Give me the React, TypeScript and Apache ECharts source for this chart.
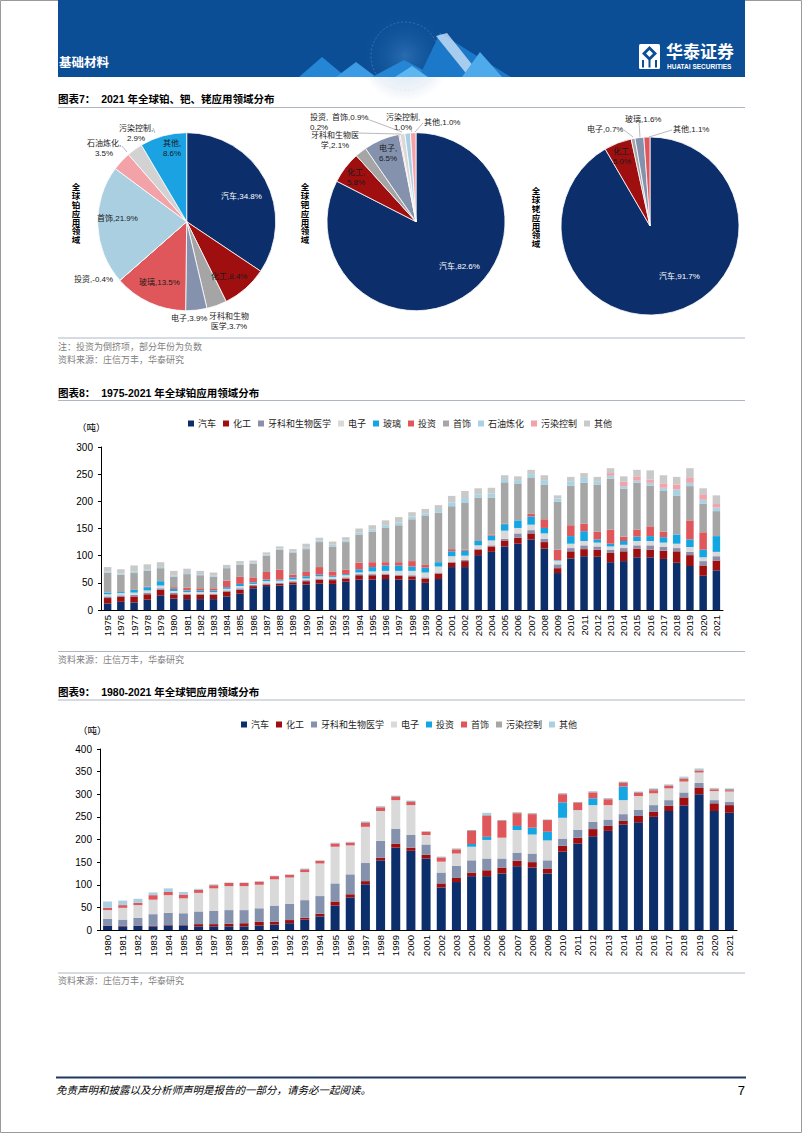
import React, { useEffect, useRef } from 'react';
import * as echarts from 'echarts';

const FONT = '"Liberation Sans", "Noto Sans CJK SC", sans-serif';

// ---------- Pie data (2021) ----------
const ptPieNames = ['汽车', '化工', '牙科和生物医学', '电子', '玻璃', '投资', '首饰', '石油炼化', '污染控制', '其他'];
const ptPieValues = [34.8, 8.4, 3.7, 3.9, 13.5, -0.4, 21.9, 3.5, 2.9, 8.6];
const pdPieNames = ['汽车', '化工', '牙科和生物医学', '电子', '投资', '首饰', '污染控制', '其他'];
const pdPieValues = [82.6, 5.8, 2.1, 6.5, 0.2, 0.9, 1.0, 1.0];
const rhPieNames = ['汽车', '化工', '电子', '玻璃', '其他'];
const rhPieValues = [91.7, 5.0, 0.7, 1.6, 1.1];
const piePalette = ['#0c2e6b', '#a00f10', '#a5a5a5', '#8592ae', '#e0575b', '#d9d9d9', '#a9cfe1', '#f3a3a8', '#d2d2d2', '#1aa2e3'];

// ---------- Platinum bar data 1975-2021 (tonnes) ----------
const ptYears = ['1975','1976','1977','1978','1979','1980','1981','1982','1983','1984','1985','1986','1987','1988','1989','1990','1991','1992','1993','1994','1995','1996','1997','1998','1999','2000','2001','2002','2003','2004','2005','2006','2007','2008','2009','2010','2011','2012','2013','2014','2015','2016','2017','2018','2019','2020','2021'];
const ptSeriesNames = ['汽车', '化工', '牙科和生物医学', '电子', '玻璃', '投资', '首饰', '石油炼化', '污染控制', '其他'];
const ptAuto = [12,15,14,19,27,21,20,20,20,25,30,40,44,45,47,47,49,48,52,56,56,57,56,56,50,57,79,79,101,107,117,122,130,113,68,95,99,98,88,90,97,97,94,87,81,63,73];
const ptChem = [10,9,11,10,10,8,8,8,8,9,7,4,3,3,4,6,7,7,6,8,8,8,7,6,8,10,8,11,10,10,11,11,11,12,9,13,13,13,17,18,16,14,15,21,20,19,18];
const ptDental = [3,3,3,3,3,3,2,2,2,2,3,2,2,2,2,2,2,2,2,2,2,2,2,2,2,2,2,2,2,2,3,8,6,6,7,6,7,6,6,6,6,8,7,6,6,8,8];
const ptElec = [4,4,4,4,5,3,3,3,3,3,4,2,4,4,3,3,4,4,4,3,5,5,7,8,9,11,10,8,6,9,15,10,10,10,7,8,8,7,6,6,8,8,8,8,9,7,8];
const ptGlass = [3,2,5,6,8,4,3,3,3,3,4,3,3,2,4,4,3,2,2,6,8,10,10,8,9,8,9,9,8,9,12,14,15,10,1,14,18,6,5,7,8,9,10,17,14,14,29];
const ptInvest = [0,0,1,1,0,3,5,4,4,12,13,9,14,18,5,8,14,8,8,12,9,6,6,10,5,0,4,2,0,2,1,0,5,16,19,20,14,14,26,8,13,18,10,0,35,32,0];
const ptJewel = [37,32,30,29,24,19,25,24,21,23,22,25,30,37,41,42,46,46,51,52,56,63,68,77,90,91,79,86,80,68,76,68,66,64,88,73,75,87,94,88,86,75,75,71,63,53,46];
const ptPetro = [2,2,3,3,2,2,2,2,2,2,2,2,2,2,2,3,3,3,3,4,4,5,5,5,5,5,7,9,6,7,6,6,7,8,6,8,9,6,5,5,4,5,6,12,6,7,7];
const ptPoll = [0,0,0,0,0,0,0,0,0,0,0,0,0,0,0,0,0,0,0,0,0,0,0,0,0,0,0,0,0,0,0,0,0,0,0,0,0,0,5,8,8,6,8,9,9,10,6];
const ptOther = [8,8,11,9,9,9,8,6,6,4,5,4,4,4,4,7,5,6,6,7,8,9,10,8,8,9,12,13,11,11,7,7,8,9,6,8,9,8,9,10,12,17,15,14,18,11,16];
const ptData = [ptAuto, ptChem, ptDental, ptElec, ptGlass, ptInvest, ptJewel, ptPetro, ptPoll, ptOther];
const ptColors = ['#0c2e6b', '#a00f10', '#8c8fa9', '#d9d9d9', '#14a6e3', '#e0575b', '#a6a6a6', '#a9d2e2', '#f2a2a8', '#c9c9c9'];
const ptTicks = { min: 0, max: 300, interval: 50 };

// ---------- Palladium bar data 1980-2021 (tonnes) ----------
const pdYears = ['1980','1981','1982','1983','1984','1985','1986','1987','1988','1989','1990','1991','1992','1993','1994','1995','1996','1997','1998','1999','2000','2001','2002','2003','2004','2005','2006','2007','2008','2009','2010','2011','2012','2013','2014','2015','2016','2017','2018','2019','2020','2021'];
const pdSeriesNames = ['汽车', '化工', '牙科和生物医学', '电子', '投资', '首饰', '污染控制', '其他'];
const pdAuto = [9,8,9,8,10,10,8,8,8,8,10,12,15,23,30,54,72,101,154,182,175,158,94,106,119,119,125,141,138,125,173,191,207,219,233,238,250,263,275,300,263,259];
const pdChem = [1,1,1,1,1,1,5,5,6,7,8,6,7,4,6,9,7,7,6,9,7,8,9,9,8,13,13,12,12,11,13,13,16,11,8,14,11,12,18,15,17,17];
const pdDental = [15,14,17,26,27,26,28,29,30,29,30,36,36,39,39,40,44,40,37,33,28,23,24,27,27,26,20,18,19,18,16,17,16,14,15,14,15,12,11,10,7,7];
const pdElec = [19,26,28,32,39,33,41,50,53,53,52,58,58,62,72,81,64,80,66,63,66,21,24,27,30,41,46,50,42,44,46,44,37,32,31,30,26,26,24,23,20,23];
const pdInvest = [0,0,0,0,0,0,0,0,0,0,0,0,0,0,0,0,0,0,0,0,0,0,0,0,6,7,0,9,15,19,34,0,15,0,30,0,0,0,0,0,0,0];
const pdJewel = [5,6,5,10,7,8,7,7,7,7,7,7,6,6,6,7,6,9,8,7,7,7,9,9,29,46,37,28,30,26,18,16,13,13,8,7,7,6,6,4,4,3];
const pdPoll = [0,0,0,0,0,1,0,0,0,0,0,0,0,1,0,1,1,2,2,2,2,1,2,2,2,2,2,2,2,1,2,2,2,2,2,2,3,2,3,3,2,3];
const pdOther = [14,10,9,6,8,5,2,2,1,1,1,1,1,1,1,1,1,1,1,1,1,0,0,0,0,5,0,0,0,0,0,0,1,0,1,1,1,1,2,2,1,1];
const pdData = [pdAuto, pdChem, pdDental, pdElec, pdInvest, pdJewel, pdPoll, pdOther];
const pdColors = ['#0c2e6b', '#a00f10', '#8592ae', '#d9d9d9', '#14a6e3', '#e0575b', '#a6a6a6', '#a9cfe1'];
const pdTicks = { min: 0, max: 400, interval: 50 };

// ---------- helpers ----------
function pieLabel(names: string[], values: number[], i: number, brk?: number) {
  const s = `${names[i]},${values[i].toFixed(1)}%`;
  if (brk === undefined) return s;
  return s.slice(0, brk) + '\n' + s.slice(brk);
}

function txt(x: number, y: number, text: string, opts: any = {}) {
  const align = opts.align || 'left';
  const valign = opts.valign || 'middle';
  return {
    type: 'text',
    x,
    y,
    z: 100,
    silent: true,
    style: {
      text,
      fill: opts.fill || '#000',
      fontSize: opts.size || 10,
      fontWeight: opts.weight || 'normal',
      fontStyle: opts.style || 'normal',
      fontFamily: opts.family || FONT,
      lineHeight: opts.lh,
      textAlign: align,
      align,
      textVerticalAlign: valign,
      verticalAlign: valign,
    },
  };
}

function hline(x1: number, x2: number, y: number, color = '#aeb6c6', w = 1) {
  return { type: 'line', z: 100, silent: true, shape: { x1, y1: y, x2, y2: y }, style: { stroke: color, lineWidth: w } };
}

function leader(points: number[][]) {
  return { type: 'polyline', z: 100, silent: true, shape: { points }, style: { stroke: '#8c8c8c', lineWidth: 0.6, fill: 'none' } };
}

function pieSeries(names: string[], values: number[], center: number[]) {
  return {
    type: 'pie',
    center,
    radius: 89,
    startAngle: 90,
    clockwise: true,
    silent: true,
    z: 1,
    label: { show: false },
    labelLine: { show: false },
    emphasis: { disabled: true },
    itemStyle: { borderColor: '#ffffff', borderWidth: 0.8 },
    data: names.map((n, i) => ({ name: n, value: Math.max(0, values[i]), itemStyle: { color: piePalette[i] } })),
  };
}

function barOption(years: string[], names: string[], data: number[][], colors: string[], ticks: any, grid: any, legendPos: any, barWidth: number) {
  return {
    animation: false,
    legend: {
      data: names,
      left: legendPos.left,
      top: legendPos.top,
      padding: 0,
      itemWidth: 6,
      itemHeight: 6,
      itemGap: 7,
      icon: 'rect',
      selectedMode: false,
      textStyle: { fontSize: 9, fontFamily: FONT, color: '#222', padding: [0, 0, 0, -1] },
    },
    grid,
    xAxis: {
      type: 'category',
      data: years,
      axisLine: { lineStyle: { color: '#000', width: 1 } },
      axisTick: { show: false },
      axisLabel: { rotate: 90, interval: 0, fontSize: 9.5, fontFamily: FONT, color: '#000', margin: 5 },
    },
    yAxis: {
      type: 'value',
      min: ticks.min,
      max: ticks.max,
      interval: ticks.interval,
      axisLine: { show: true, lineStyle: { color: '#000', width: 1 } },
      axisTick: { show: true, length: 3, lineStyle: { color: '#000' } },
      splitLine: { show: false },
      axisLabel: { fontSize: 10, fontFamily: FONT, color: '#000', margin: 8 },
    },
    series: names.map((n, i) => ({
      name: n,
      type: 'bar',
      stack: 'total',
      barWidth,
      silent: true,
      itemStyle: { color: colors[i] },
      data: data[i],
    })),
  };
}

function baseOption() {
  const banner = '#0c4e95';
  const g: any[] = [];
  const shape = (o: any) => { o.silent = true; o.z = o.z ?? 50; g.push(o); };
  // page frame
  shape({ type: 'rect', shape: { x: 0.5, y: 0.5, width: 801, height: 1132 }, style: { fill: 'none', stroke: '#9a9a9a', lineWidth: 1 } });
  // banner
  shape({ type: 'rect', shape: { x: 58, y: 0, width: 687, height: 77 }, style: { fill: banner } });
  shape({
    type: 'circle', shape: { cx: 405, cy: 56, r: 46 },
    style: { fill: new echarts.graphic.RadialGradient(0.5, 0.5, 0.5, [
      { offset: 0, color: 'rgba(120,185,245,0.28)' },
      { offset: 1, color: 'rgba(12,78,149,0)' },
    ]) },
  });
  shape({ type: 'circle', shape: { cx: 405, cy: 56, r: 34 }, style: { fill: 'none', stroke: 'rgba(170,215,255,0.3)', lineWidth: 0.8, lineDash: [2, 2] } });
  const tri = (pts: number[][], fill: string) => shape({ type: 'polygon', shape: { points: pts }, style: { fill } });
  tri([[299, 77], [322, 57], [346, 77]], '#2586d6');
  tri([[336, 77], [356, 62], [376, 77]], '#3b9be4');
  tri([[372, 77], [404, 60], [436, 77]], '#2586d6');
  tri([[419, 77], [440, 33], [511, 77]], '#1c78c8');
  tri([[436, 36], [447, 33], [482, 77], [469, 77]], 'rgba(215,232,250,0.75)');
  tri([[462, 77], [480, 52], [502, 77]], '#4eaaea');
  tri([[395, 77], [412, 66], [428, 77]], '#5db6ef');
  g.push(txt(59, 63, '基础材料', { fill: '#fff', size: 12.5, weight: 'bold' }));
  // logo
  shape({ type: 'rect', shape: { x: 639, y: 44, width: 21, height: 25, r: 1.5 }, style: { fill: '#fff' } });
  tri([[649.5, 46], [657, 53.5], [649.5, 61], [642, 53.5]], banner);
  tri([[649.5, 50], [653, 53.5], [649.5, 57], [646, 53.5]], '#fff');
  [643, 649.5, 656].forEach((x) => shape({ type: 'line', shape: { x1: x, y1: 60, x2: x, y2: 67.5 }, style: { stroke: banner, lineWidth: 2 } }));
  g.push(txt(666, 52, '华泰证券', { fill: '#fff', size: 17, weight: 'bold' }));
  g.push(txt(667, 66, 'HUATAI SECURITIES', { fill: '#fff', size: 6.5, weight: 'bold' }));

  // ---- Figure 7 ----
  g.push(txt(58, 99, '图表7：  2021 年全球铂、钯、铑应用领域分布', { size: 10.5, weight: 'bold' }));
  g.push(hline(58, 745, 107.5));
  g.push(txt(76, 183, '全\n球\n铂\n应\n用\n领\n域', { size: 8.5, weight: 'bold', align: 'center', valign: 'top', lh: 8.8 }));
  g.push(txt(305, 183, '全\n球\n钯\n应\n用\n领\n域', { size: 8.5, weight: 'bold', align: 'center', valign: 'top', lh: 8.8 }));
  g.push(txt(536, 187, '全\n球\n铑\n应\n用\n领\n域', { size: 8.5, weight: 'bold', align: 'center', valign: 'top', lh: 8.8 }));

  const L = 8;
  const dark = '#1a1a1a';
  // platinum pie labels
  g.push(txt(221, 196, pieLabel(ptPieNames, ptPieValues, 0), { size: L, fill: '#fff' }));
  g.push(txt(211, 276, pieLabel(ptPieNames, ptPieValues, 1), { size: L, fill: dark }));
  g.push(txt(229, 311, pieLabel(ptPieNames, ptPieValues, 2, 5), { size: L, fill: dark, align: 'center', valign: 'top', lh: 10 }));
  g.push(txt(171, 318, pieLabel(ptPieNames, ptPieValues, 3), { size: L, fill: dark }));
  g.push(txt(139, 282, pieLabel(ptPieNames, ptPieValues, 4), { size: L, fill: dark }));
  g.push(txt(74, 279, pieLabel(ptPieNames, ptPieValues, 5), { size: L, fill: dark }));
  g.push(txt(97, 218, pieLabel(ptPieNames, ptPieValues, 6), { size: L, fill: dark }));
  g.push(txt(104, 138, pieLabel(ptPieNames, ptPieValues, 7, 5), { size: L, fill: dark, align: 'center', valign: 'top', lh: 10 }));
  g.push(txt(136, 123, pieLabel(ptPieNames, ptPieValues, 8, 5), { size: L, fill: dark, align: 'center', valign: 'top', lh: 10 }));
  g.push(txt(172, 138, pieLabel(ptPieNames, ptPieValues, 9, 3), { size: L, fill: dark, align: 'center', valign: 'top', lh: 10 }));
  g.push(leader([[122, 146], [127, 152]]));
  g.push(leader([[153, 128], [155, 133]]));
  // palladium pie labels
  g.push(txt(439, 266, pieLabel(pdPieNames, pdPieValues, 0), { size: L, fill: '#fff' }));
  g.push(txt(356, 167, pieLabel(pdPieNames, pdPieValues, 1, 3), { size: L, fill: dark, align: 'center', valign: 'top', lh: 10 }));
  g.push(txt(335, 130, pieLabel(pdPieNames, pdPieValues, 2, 6), { size: L, fill: dark, align: 'center', valign: 'top', lh: 10 }));
  g.push(txt(388, 143, pieLabel(pdPieNames, pdPieValues, 3, 3), { size: L, fill: dark, align: 'center', valign: 'top', lh: 10 }));
  g.push(txt(310, 112, pieLabel(pdPieNames, pdPieValues, 4, 3), { size: L, fill: dark, valign: 'top', lh: 10 }));
  g.push(txt(332, 117, pieLabel(pdPieNames, pdPieValues, 5), { size: L, fill: dark }));
  g.push(txt(403, 112, pieLabel(pdPieNames, pdPieValues, 6, 5), { size: L, fill: dark, align: 'center', valign: 'top', lh: 10 }));
  g.push(txt(424, 122, pieLabel(pdPieNames, pdPieValues, 7), { size: L, fill: dark }));
  g.push(leader([[367, 119], [402, 132]]));
  g.push(leader([[356, 133], [401, 134]]));
  g.push(leader([[410, 128], [412, 132]]));
  g.push(leader([[423, 123], [415, 132]]));
  // rhodium pie labels
  g.push(txt(659, 276, pieLabel(rhPieNames, rhPieValues, 0), { size: L, fill: '#fff' }));
  g.push(txt(622, 146, pieLabel(rhPieNames, rhPieValues, 1, 3), { size: L, fill: dark, align: 'center', valign: 'top', lh: 10 }));
  g.push(txt(587, 129, pieLabel(rhPieNames, rhPieValues, 2), { size: L, fill: dark }));
  g.push(txt(625, 119, pieLabel(rhPieNames, rhPieValues, 3), { size: L, fill: dark }));
  g.push(txt(673, 129, pieLabel(rhPieNames, rhPieValues, 4), { size: L, fill: dark }));
  g.push(leader([[624, 130], [633, 137]]));
  g.push(leader([[639, 123], [640, 137]]));
  g.push(leader([[672, 130], [649, 137]]));

  g.push(hline(58, 745, 338));
  g.push(txt(58, 347, '注：投资为倒挤项，部分年份为负数', { size: 9, fill: '#808080' }));
  g.push(txt(58, 360, '资料来源：庄信万丰，华泰研究', { size: 9, fill: '#808080' }));

  // ---- Figure 8 ----
  g.push(txt(58, 393, '图表8：  1975-2021 年全球铂应用领域分布', { size: 10.5, weight: 'bold' }));
  g.push(hline(58, 745, 400.5));
  g.push(txt(77, 427, '（吨）', { size: 9.5 }));
  g.push(hline(58, 745, 651.5));
  g.push(txt(58, 660, '资料来源：庄信万丰，华泰研究', { size: 9, fill: '#808080' }));

  // ---- Figure 9 ----
  g.push(txt(58, 692, '图表9：  1980-2021 年全球钯应用领域分布', { size: 10.5, weight: 'bold' }));
  g.push(hline(58, 745, 700));
  g.push(txt(78, 730, '（吨）', { size: 9.5 }));
  g.push(hline(58, 745, 973));
  g.push(txt(58, 981, '资料来源：庄信万丰，华泰研究', { size: 9, fill: '#808080' }));

  // footer
  g.push(hline(56, 746, 1077.5, '#1f3864', 2));
  g.push(txt(56, 1090, '免责声明和披露以及分析师声明是报告的一部分，请务必一起阅读。', { size: 10.5, style: 'italic' }));
  g.push(txt(745, 1090, '7', { size: 13, align: 'right' }));

  return {
    animation: false,
    graphic: { elements: g },
    series: [
      pieSeries(ptPieNames, ptPieValues, [186.7, 221.7]),
      pieSeries(pdPieNames, pdPieValues, [416, 221.7]),
      pieSeries(rhPieNames, rhPieValues, [650, 226]),
    ],
  };
}

export default function App() {
  const baseRef = useRef<HTMLDivElement>(null);
  const ptRef = useRef<HTMLDivElement>(null);
  const pdRef = useRef<HTMLDivElement>(null);

  useEffect(() => {
    const base = echarts.init(baseRef.current!, null, { renderer: 'svg', width: 802, height: 1133 });
    base.setOption(baseOption());
    const pt = echarts.init(ptRef.current!, null, { renderer: 'svg', width: 802, height: 1133 });
    pt.setOption(barOption(ptYears, ptSeriesNames, ptData, ptColors, ptTicks,
      { left: 101, top: 447, width: 622, height: 163 }, { left: 188, top: 419 }, 7.5));
    const pd = echarts.init(pdRef.current!, null, { renderer: 'svg', width: 802, height: 1133 });
    pd.setOption(barOption(pdYears, pdSeriesNames, pdData, pdColors, pdTicks,
      { left: 100, top: 749, width: 637, height: 181 }, { left: 241, top: 720 }, 9));
    return () => {
      base.dispose();
      pt.dispose();
      pd.dispose();
    };
  }, []);

  const layer: React.CSSProperties = { position: 'absolute', left: 0, top: 0, width: 802, height: 1133 };
  return (
    <div style={{ position: 'absolute', left: 0, top: 0, width: 802, height: 1133, background: '#fff', overflow: 'hidden' }}>
      <div ref={baseRef} style={layer} />
      <div ref={ptRef} style={layer} />
      <div ref={pdRef} style={layer} />
    </div>
  );
}
